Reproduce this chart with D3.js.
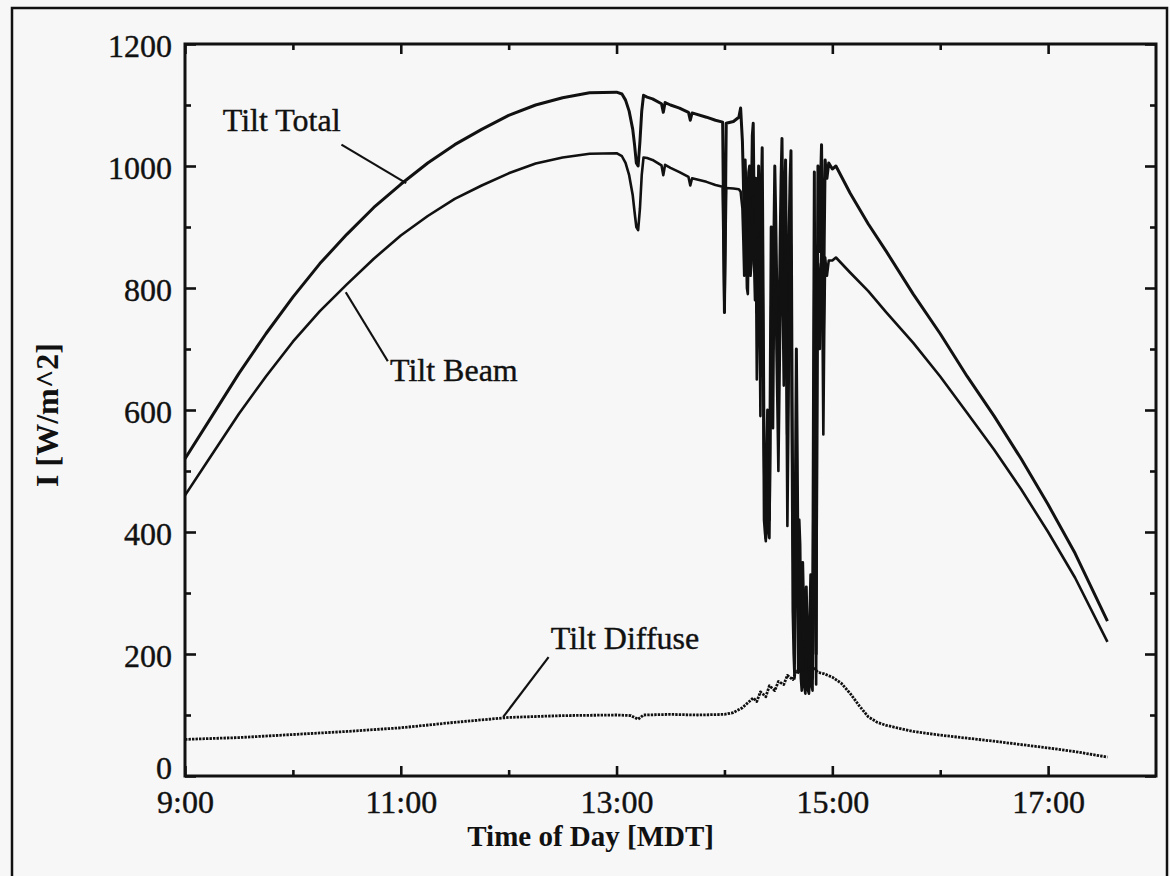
<!DOCTYPE html>
<html>
<head>
<meta charset="utf-8">
<script src="https://cdn.jsdelivr.net/npm/d3@7"></script>
<style>
  html, body { margin: 0; padding: 0; background: #f7f7f7; }
  svg { display: block; font-family: "Liberation Serif", "Times New Roman", serif; }
</style>
</head>
<body>
<div id="chart"></div>
<script>
// Irradiance on the tilted surface, one day (MDT)

// [time, tilt total, tilt beam] - clear morning and the first dip
const morningRows = [
    ['9:00', 520, 460], ['9:15', 590, 527], ['9:30', 660, 594], ['9:45', 725, 655],
    ['10:00', 785, 712], ['10:15', 840, 762], ['10:30', 888, 806], ['10:45', 932, 848],
    ['11:00', 970, 886], ['11:15', 1005, 918], ['11:30', 1035, 946], ['11:45', 1060, 968],
    ['12:00', 1083, 988], ['12:15', 1100, 1004], ['12:30', 1112, 1014], ['12:45', 1120, 1020],
    ['13:00', 1121, 1021], ['13:03', 1118, 1016], ['13:05', 1108, 1005], ['13:07', 1090, 985],
    ['13:09', 1060, 952], ['13:10', 1035, 925], ['13:11', 1005, 900], ['13:12', 1000, 895],
    ['13:13', 1040, 930], ['13:14', 1090, 985], ['13:15', 1116, 1014], ['13:17', 1113, 1013],
    ['13:20', 1110, 1010], ['13:25', 1102, 1001], ['13:26', 1088, 985], ['13:27', 1104, 1002],
    ['13:30', 1100, 997], ['13:35', 1095, 990], ['13:40', 1088, 982], ['13:41', 1075, 968],
    ['13:42', 1087, 980], ['13:50', 1080, 974], ['13:55', 1075, 969], ['13:59', 1072, 966],
    ['14:00', 760, 760], ['14:01', 1070, 964], ['14:05', 1073, 963], ['14:08', 1080, 962],
    ['14:09', 1095, 958]
];

// broken clouds, 14:10 - 15:00
const cloudRows = [
    ['14:10:00', 1040, 930], ['14:10:30', 980, 880], ['14:11:00', 900, 820], ['14:11:30', 1010, 905],
    ['14:12:00', 960, 880], ['14:12:30', 870, 800], ['14:13:00', 880, 790], ['14:13:30', 990, 890],
    ['14:14:00', 1000, 900], ['14:14:30', 900, 820], ['14:15:00', 940, 840], ['14:15:30', 1050, 935],
    ['14:16:00', 1070, 950], ['14:16:30', 930, 840], ['14:17:00', 880, 780], ['14:17:30', 980, 880],
    ['14:18:00', 760, 650], ['14:18:30', 850, 760], ['14:19:00', 1000, 890], ['14:19:30', 880, 780],
    ['14:20:00', 700, 590], ['14:20:30', 950, 850], ['14:21:00', 1030, 910], ['14:21:30', 800, 700],
    ['14:22:00', 540, 420], ['14:22:30', 450, 400], ['14:23:00', 390, 385], ['14:23:30', 520, 430],
    ['14:24:00', 600, 480], ['14:24:30', 480, 400], ['14:25:00', 420, 390], ['14:25:30', 650, 540],
    ['14:26:00', 900, 770], ['14:26:30', 780, 660], ['14:27:00', 700, 570], ['14:27:30', 880, 760],
    ['14:28:00', 1000, 870], ['14:28:30', 920, 800], ['14:29:00', 820, 690], ['14:29:30', 720, 600],
    ['14:30:00', 640, 500], ['14:30:30', 760, 620], ['14:31:00', 880, 740], ['14:31:30', 980, 850],
    ['14:32:00', 1045, 900], ['14:32:30', 900, 760], ['14:33:00', 780, 640], ['14:33:30', 940, 800],
    ['14:34:00', 1010, 860], ['14:34:30', 800, 650], ['14:35:00', 560, 410], ['14:35:30', 700, 560],
    ['14:36:00', 900, 750], ['14:36:30', 980, 840], ['14:37:00', 1025, 870], ['14:37:30', 700, 560],
    ['14:38:00', 420, 270], ['14:38:30', 330, 200], ['14:39:00', 260, 160], ['14:39:30', 480, 360],
    ['14:40:00', 700, 540], ['14:40:30', 520, 380], ['14:41:00', 300, 170], ['14:41:30', 420, 300],
    ['14:42:00', 380, 230], ['14:42:30', 240, 160], ['14:43:00', 170, 140], ['14:43:30', 350, 220],
    ['14:44:00', 280, 150], ['14:44:30', 200, 145], ['14:45:00', 150, 135], ['14:45:30', 310, 190],
    ['14:46:00', 240, 145], ['14:46:30', 180, 140], ['14:47:00', 145, 135], ['14:47:30', 260, 160],
    ['14:48:00', 330, 180], ['14:48:30', 220, 150], ['14:49:00', 160, 140], ['14:49:30', 600, 480],
    ['14:50:00', 990, 830], ['14:50:30', 420, 300], ['14:51:00', 200, 150], ['14:51:30', 700, 560],
    ['14:52:00', 1000, 840], ['14:52:30', 940, 790], ['14:53:00', 860, 700], ['14:53:30', 980, 830],
    ['14:54:00', 1035, 870], ['14:54:30', 900, 760], ['14:55:00', 700, 560], ['14:55:30', 880, 730],
    ['14:56:00', 1010, 850], ['14:56:30', 990, 835], ['14:57:00', 980, 820], ['14:58:00', 1005, 845],
    ['14:59:00', 1000, 845], ['15:00:00', 995, 845]
];

// clear afternoon
const afternoonRows = [
    ['15:02', 1000, 850], ['15:10', 955, 825], ['15:20', 905, 795], ['15:30', 860, 760],
    ['15:45', 790, 710], ['16:00', 725, 655], ['16:15', 655, 595], ['16:30', 590, 535],
    ['16:45', 520, 470], ['17:00', 445, 400], ['17:15', 365, 325], ['17:33', 254, 220]
];

// [time, tilt diffuse]
const diffuseRows = [
    ['9:00', 60], ['9:30', 63], ['10:00', 68], ['10:30', 73], ['11:00', 79], ['11:30', 88],
    ['12:00', 96], ['12:30', 99], ['13:00', 100], ['13:08', 99], ['13:12', 93], ['13:15', 100],
    ['13:30', 101], ['13:45', 100], ['14:00', 101], ['14:05', 104], ['14:10', 112], ['14:13', 120],
    ['14:16', 128], ['14:18', 122], ['14:20', 138], ['14:23', 130], ['14:25', 148], ['14:28', 140],
    ['14:30', 155], ['14:33', 150], ['14:35', 165], ['14:38', 158], ['14:40', 172], ['14:42', 168],
    ['14:45', 178], ['14:47', 172], ['14:49', 180], ['14:52', 170], ['14:55', 168], ['15:00', 162],
    ['15:05', 152], ['15:10', 135], ['15:15', 115], ['15:20', 97], ['15:25', 88], ['15:30', 83],
    ['15:45', 73], ['16:00', 67], ['16:30', 57], ['17:00', 46], ['17:15', 40], ['17:33', 31]
];

const majorHours = [9, 11, 13, 15, 17];
const minorHours = [10, 12, 14, 16];
const majorLevels = [0, 200, 400, 600, 800, 1000, 1200];
const minorLevels = [100, 300, 500, 700, 900, 1100];

const hours = s => { const [h, m, sec = 0] = s.split(':').map(Number); return h + m / 60 + sec / 3600; };

class IrradianceChart {
    #scaleX;
    #scaleY;

    constructor(container, width, height, margin) {
        this.width = width;
        this.height = height;
        this.margin = margin; // [top, bottom, left, right]

        this.svg = d3.select(container)
            .append('svg')
            .attr('width', this.width)
            .attr('height', this.height);

        // scanned page frame
        this.svg.append('rect')
            .attr('x', 12).attr('y', 8)
            .attr('width', 1155).attr('height', 880)
            .attr('fill', 'none')
            .attr('stroke', '#111')
            .attr('stroke-width', 2.5);

        this.chart = this.svg.append('g')
            .attr('transform', `translate(${this.margin[2]}, ${this.margin[0]})`);
    }

    render(series) {
        this.#updateScales();
        const w = this.width - this.margin[2] - this.margin[3],
            h = this.height - this.margin[0] - this.margin[1];

        this.#drawAxes(w, h);

        const line = d3.line()
            .x(d => this.#scaleX(d.t))
            .y(d => this.#scaleY(d.v));

        this.chart.selectAll('path.trace')
            .data(series)
            .join('path')
            .attr('class', 'trace')
            .attr('fill', 'none')
            .attr('stroke', '#111')
            .attr('stroke-linejoin', 'round')
            .attr('stroke-width', d => d.width)
            .attr('stroke-dasharray', d => d.dash)
            .attr('d', d => line(d.values));

        // curve labels with leader lines (anchored in data units)
        const notes = [
            { text: 'Tilt Total', at: [9.35, 1057], leader: [[10.45, 1035], [11.05, 972]] },
            { text: 'Tilt Beam', at: [10.90, 648], leader: [[10.49, 793], [10.88, 680]] },
            { text: 'Tilt Diffuse', at: [12.39, 208], leader: [[12.37, 195], [11.95, 97]] }
        ];
        const g = this.chart.append('g');
        g.selectAll('text')
            .data(notes)
            .join('text')
            .attr('x', d => this.#scaleX(d.at[0]))
            .attr('y', d => this.#scaleY(d.at[1]))
            .attr('font-size', 32)
            .attr('fill', '#111')
            .attr('stroke', '#111')
            .attr('stroke-width', 0.4)
            .text(d => d.text);
        g.selectAll('line')
            .data(notes)
            .join('line')
            .attr('x1', d => this.#scaleX(d.leader[0][0]))
            .attr('y1', d => this.#scaleY(d.leader[0][1]))
            .attr('x2', d => this.#scaleX(d.leader[1][0]))
            .attr('y2', d => this.#scaleY(d.leader[1][1]))
            .attr('stroke', '#111')
            .attr('stroke-width', 2.2);
    }

    #drawAxes(w, h) {
        const x = this.#scaleX, y = this.#scaleY;
        const fmt = v => `${v}:00`;

        const add = (axis, transform) => {
            const a = this.chart.append('g')
                .attr('transform', transform)
                .call(axis);
            a.select('.domain').remove();
            a.selectAll('line').attr('stroke', '#111').attr('stroke-width', 2.6);
            a.selectAll('text')
                .attr('font-family', '"Liberation Serif", "Times New Roman", serif')
                .attr('font-size', 32)
                .attr('fill', '#111')
                .attr('stroke', '#111')
                .attr('stroke-width', 0.4);
            return a;
        };

        // bottom and top
        add(d3.axisBottom(x).tickValues(majorHours).tickSize(-10).tickPadding(14).tickFormat(fmt), `translate(0, ${h})`);
        add(d3.axisBottom(x).tickValues(minorHours).tickSize(-6).tickFormat(''), `translate(0, ${h})`);
        add(d3.axisTop(x).tickValues(majorHours).tickSize(-10).tickFormat(''), 'translate(0, 0)');
        add(d3.axisTop(x).tickValues(minorHours).tickSize(-6).tickFormat(''), 'translate(0, 0)');

        // left and right
        add(d3.axisLeft(y).tickValues(majorLevels).tickSize(-11).tickPadding(13).tickFormat(d3.format('d')), 'translate(0, 0)')
            .selectAll('text').attr('dy', d => d === 0 ? '0.08em' : '0.4em');
        add(d3.axisLeft(y).tickValues(minorLevels).tickSize(-6).tickFormat(''), 'translate(0, 0)');
        add(d3.axisRight(y).tickValues(majorLevels).tickSize(-11).tickFormat(''), `translate(${w}, 0)`);
        add(d3.axisRight(y).tickValues(minorLevels).tickSize(-6).tickFormat(''), `translate(${w}, 0)`);

        this.chart.append('rect')
            .attr('width', w).attr('height', h)
            .attr('fill', 'none')
            .attr('stroke', '#111')
            .attr('stroke-width', 3);

        this.chart.append('text')
            .attr('x', x(12.76))
            .attr('y', h + 70)
            .attr('text-anchor', 'middle')
            .attr('font-size', 29)
            .attr('font-weight', 'bold')
            .attr('fill', '#111')
            .text('Time of Day [MDT]');

        this.chart.append('text')
            .attr('transform', `translate(${-127}, ${h / 2 + 5}) rotate(-90)`)
            .attr('text-anchor', 'middle')
            .attr('font-size', 32)
            .attr('font-weight', 'bold')
            .attr('fill', '#111')
            .text('I [W/m^2]');
    }

    #updateScales() {
        let chartWidth = this.width - this.margin[2] - this.margin[3],
            chartHeight = this.height - this.margin[0] - this.margin[1];

        this.#scaleX = d3.scaleLinear([9, 18], [0, chartWidth]);
        this.#scaleY = d3.scaleLinear([0, 1200], [chartHeight, 0]);
    }
}

const rowsTB = [...morningRows, ...cloudRows, ...afternoonRows];
const pick = (rows, col) => rows.map(r => ({ t: hours(r[0]), v: r[col] }));

const chart = new IrradianceChart('#chart', 1170, 876, [44, 100, 185, 14]);
chart.render([
    { key: 'total', width: 3, dash: null, values: pick(rowsTB, 1) },
    { key: 'beam', width: 2.6, dash: null, values: pick(rowsTB, 2) },
    { key: 'diffuse', width: 2.8, dash: '2.4,1.1', values: pick(diffuseRows, 1) }
]);
</script>
</body>
</html>
